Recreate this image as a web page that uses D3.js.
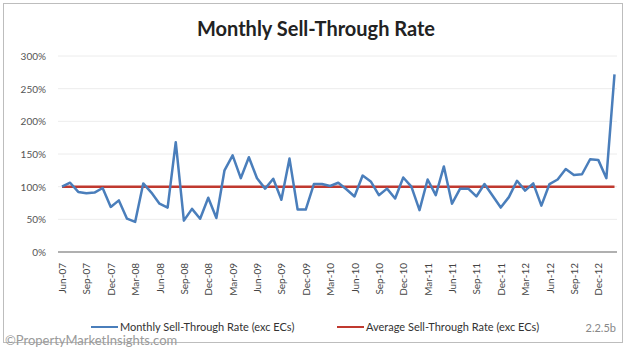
<!DOCTYPE html>
<html><head><meta charset="utf-8">
<script src="https://cdn.jsdelivr.net/npm/d3@7"></script>
<style>body{margin:0;background:#fff}svg{display:block}text{font-family:Lato,"Open Sans",sans-serif}</style>
</head><body><svg id="c" width="630" height="350"></svg>
<script>
const months = ["Jun-07","Jul-07","Aug-07","Sep-07","Oct-07","Nov-07","Dec-07","Jan-08","Feb-08","Mar-08","Apr-08","May-08",
"Jun-08","Jul-08","Aug-08","Sep-08","Oct-08","Nov-08","Dec-08","Jan-09","Feb-09","Mar-09","Apr-09","May-09",
"Jun-09","Jul-09","Aug-09","Sep-09","Oct-09","Nov-09","Dec-09","Jan-10","Feb-10","Mar-10","Apr-10","May-10",
"Jun-10","Jul-10","Aug-10","Sep-10","Oct-10","Nov-10","Dec-10","Jan-11","Feb-11","Mar-11","Apr-11","May-11",
"Jun-11","Jul-11","Aug-11","Sep-11","Oct-11","Nov-11","Dec-11","Jan-12","Feb-12","Mar-12","Apr-12","May-12",
"Jun-12","Jul-12","Aug-12","Sep-12","Oct-12","Nov-12","Dec-12","Jan-13","Feb-13"];
const monthlyRate = [100,106,92,90,91,98,69,79,51,46,105,91,
74,68,168,48,66,51,83,52,125,148,113,145,
113,97,112,80,143,65,65,104,104,101,106,96,
85,117,108,87,97,82,114,100,64,111,87,131,
74,97,97,85,104,86,68,84,109,94,105,71,
104,111,127,118,119,142,141,113,272];
const averageRate = months.map(() => 100);
const yTicks = [0,50,100,150,200,250,300];
const xTickLabels = months.filter((m,i) => i % 3 === 0 && i <= 66);
const seriesNames = ["Monthly Sell-Through Rate  (exc ECs)", "Average Sell-Through Rate  (exc ECs)"];

const svg = d3.select("#c");
const blue = "#4a7ebb", red = "#c0392f";

svg.append("rect").attr("x",3.5).attr("y",3.5).attr("width",619).attr("height",339)
  .attr("fill","#fff").attr("stroke","#bdbdbd");

svg.append("text").attr("x",316).attr("y",36).attr("text-anchor","middle")
  .attr("font-size",20).attr("font-weight","bold").attr("fill","#222").text("Monthly Sell-Through Rate");

const plotLeft = 58, plotRight = 617;
const x = d3.scalePoint().domain(months).range([62, 614.5]);
const y = d3.scaleLinear().domain([0,300]).range([252,56]);

// gridlines
svg.append("g").selectAll("line").data(yTicks.filter(d=>d>0)).join("line")
  .attr("x1",plotLeft).attr("x2",plotRight).attr("y1",d=>y(d)).attr("y2",d=>y(d))
  .attr("stroke","#ececec").attr("stroke-width",1);

// y axis labels
const yAxis = d3.axisLeft(y).tickValues(yTicks).tickFormat(d=>d+"%").tickSize(0).tickPadding(0);
const gy = svg.append("g").attr("transform","translate(46,0)").call(yAxis);
gy.select(".domain").remove();
gy.selectAll("text").attr("font-size",10).attr("fill","#555").attr("dy","0.35em");

// x axis
const xAxis = d3.axisBottom(x).tickValues(xTickLabels).tickSize(0).tickPadding(0);
const gx = svg.append("g").attr("transform","translate(0,263)").call(xAxis);
gx.select(".domain").remove();
gx.selectAll("text").attr("font-size",10).attr("fill","#444")
  .attr("transform","rotate(-90)").attr("text-anchor","end").attr("x",0).attr("y",0).attr("dy","0.35em");

svg.append("line").attr("x1",plotLeft).attr("x2",plotRight).attr("y1",y(0)).attr("y2",y(0))
  .attr("stroke","#b0b0b0").attr("stroke-width",2);

// series
const line = d3.line().x((d,i)=>x(months[i])).y(d=>y(d));
svg.append("path").datum(averageRate).attr("d",line).attr("fill","none").attr("stroke",red).attr("stroke-width",2.5);
svg.append("path").datum(monthlyRate).attr("d",line).attr("fill","none").attr("stroke",blue)
  .attr("stroke-width",2.5).attr("stroke-linejoin","round");

// legend
const lg = svg.append("g");
lg.append("line").attr("x1",91).attr("x2",118).attr("y1",327).attr("y2",327).attr("stroke",blue).attr("stroke-width",2);
lg.append("text").attr("x",120).attr("y",331).attr("font-size",11).attr("fill","#333").text(seriesNames[0]);
lg.append("line").attr("x1",337).attr("x2",364).attr("y1",327).attr("y2",327).attr("stroke",red).attr("stroke-width",2);
lg.append("text").attr("x",366).attr("y",331).attr("font-size",11).attr("fill","#333").text(seriesNames[1]);

svg.append("text").attr("x",616).attr("y",332).attr("text-anchor","end").attr("font-size",11).attr("fill","#888").text("2.2.5b");
svg.append("text").attr("x",5).attr("y",345).attr("font-size",13).attr("fill","#9a9a9a").text("\u00A9PropertyMarketInsights.com");
</script></body></html>
